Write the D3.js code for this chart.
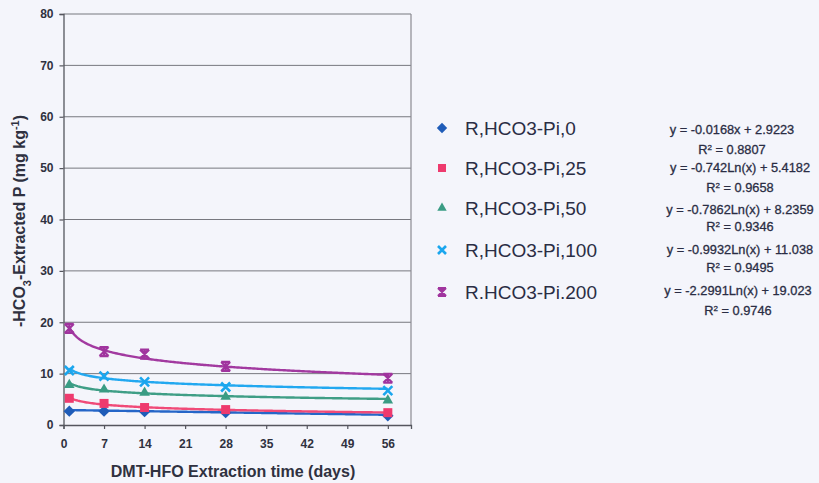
<!DOCTYPE html>
<html>
<head>
<meta charset="utf-8">
<script src="https://cdn.jsdelivr.net/npm/d3@7"></script>
<style>
  html, body { margin: 0; padding: 0; background: #f4f5fb; }
  svg { display: block; }
  text { font-family: "Liberation Sans", Arial, sans-serif; }
</style>
</head>
<body>
<svg id="chart" width="819" height="483"></svg>
<script>
// Extraction days and measured HCO3-extractable P for each P rate
const days = [1, 7, 14, 28, 56];
const seriesNames = ["R,HCO3-Pi,0", "R,HCO3-Pi,25", "R,HCO3-Pi,50", "R,HCO3-Pi,100", "R.HCO3-Pi.200"];
const pi0   = [2.7, 2.7, 2.6, 2.4, 1.8];
const pi25  = [5.2, 4.2, 3.4, 3.0, 2.4];
const pi50  = [7.8, 6.9, 6.3, 5.5, 4.8];
const pi100 = [10.6, 9.5, 8.4, 7.4, 6.7];
const pi200 = [18.8, 14.3, 13.8, 11.4, 9.1];
const seriesValues = [pi0, pi25, pi50, pi100, pi200];

// Trendline fits (linear for the first, logarithmic for the rest)
const fitType   = ["linear", "log", "log", "log", "log"];
const fitSlope  = [-0.0168, -0.742, -0.7862, -0.9932, -2.2991];
const fitConst  = [2.9223, 5.4182, 8.2359, 11.038, 19.023];
const fitR2     = ["0.8807", "0.9658", "0.9346", "0.9495", "0.9746"];
const fitText   = [
  "y = -0.0168x + 2.9223",
  "y = -0.742Ln(x) + 5.4182",
  "y = -0.7862Ln(x) + 8.2359",
  "y = -0.9932Ln(x) + 11.038",
  "y = -2.2991Ln(x) + 19.023"
];

const xTicks = [0, 7, 14, 21, 28, 35, 42, 49, 56];
const yTicks = [0, 10, 20, 30, 40, 50, 60, 70, 80];

const colors     = ["#1f5cb8", "#ee3a6e", "#3a9c84", "#1aa6ee", "#a0349e"];
const lineColors = ["#2566c8", "#f04a78", "#3f9e86", "#22a8f0", "#a23aa0"];
const shapes     = ["diamond", "square", "triangle", "cross", "star"];

const svg = d3.select("#chart");
const x = d3.scaleLinear().domain([0, 60]).range([63.5, 411]);
const y = d3.scaleLinear().domain([0, 80]).range([425, 14]);

// grid lines
svg.append("g").selectAll("line").data(yTicks.filter(d => d > 0)).join("line")
  .attr("x1", x(0)).attr("x2", x(60))
  .attr("y1", d => y(d)).attr("y2", d => y(d))
  .attr("stroke", "#77787f").attr("stroke-width", 1);

// right border
svg.append("line").attr("x1", x(60)).attr("x2", x(60)).attr("y1", y(80)).attr("y2", y(0))
  .attr("stroke", "#8a8a92").attr("stroke-width", 1.2);

// axes
const axisText = "#2f3140";
const yAxis = svg.append("g").attr("transform", `translate(${x(0)},0)`)
  .call(d3.axisLeft(y).tickValues(yTicks).tickSize(4).tickPadding(6));
const xAxis = svg.append("g").attr("transform", `translate(0,${y(0)})`)
  .call(d3.axisBottom(x).tickValues(xTicks).tickSize(4).tickPadding(10));
[yAxis, xAxis].forEach(g => {
  g.select(".domain").attr("stroke", "#55565e").attr("stroke-width", 1.3);
  g.selectAll(".tick line").attr("stroke", "#55565e").attr("stroke-width", 1.2);
  g.selectAll(".tick text").attr("fill", axisText)
    .style("font-size", "12px").style("font-weight", "bold")
    .style("font-family", "'Liberation Sans', Arial, sans-serif");
});

// trendlines
function fitValue(i, d) {
  return fitType[i] === "linear" ? fitSlope[i] * d + fitConst[i] : fitSlope[i] * Math.log(d) + fitConst[i];
}
const curveDays = d3.range(1, 56.01, 0.25);
const line = d3.line().x(d => x(d[0])).y(d => y(d[1])).curve(d3.curveLinear);
seriesValues.forEach((vals, i) => {
  svg.append("path")
    .datum(curveDays.map(d => [d, fitValue(i, d)]))
    .attr("d", line)
    .attr("fill", "none")
    .attr("stroke", lineColors[i])
    .attr("stroke-width", 2.4);
});

// markers
function drawMarker(g, shape, color, size) {
  const s = size, h = s / 2;
  if (shape === "diamond") {
    const r = h + 1.2;
    g.append("path").attr("d", `M0,${-r}L${r},0L0,${r}L${-r},0Z`).attr("fill", color);
  } else if (shape === "square") {
    g.append("rect").attr("x", -h).attr("y", -h).attr("width", s).attr("height", s).attr("fill", color);
  } else if (shape === "triangle") {
    g.append("path").attr("d", d3.symbol(d3.symbolTriangle, s * s * 0.6)()).attr("fill", color);
  } else if (shape === "cross") {
    g.append("path").attr("d", `M${-h},${-h}L${h},${h}M${-h},${h}L${h},${-h}`)
      .attr("stroke", color).attr("stroke-width", 2.6).attr("fill", "none");
  } else if (shape === "star") {
    g.append("path").attr("d", `M${-h},${-h}L${h},${h}M${-h},${h}L${h},${-h}M0,${-h}L0,${h}M${-h},${-h}L${h},${-h}M${-h},${h}L${h},${h}`)
      .attr("stroke", color).attr("stroke-width", 2.2).attr("fill", "none");
  }
}
seriesValues.forEach((vals, i) => {
  vals.forEach((v, j) => {
    const g = svg.append("g").attr("transform", `translate(${x(days[j])},${y(v)})`);
    drawMarker(g, shapes[i], colors[i], 9);
  });
});

// axis titles
const yTitle = svg.append("text")
  .attr("transform", `translate(25,221) rotate(-90)`)
  .attr("text-anchor", "middle")
  .attr("fill", axisText).style("font-size", "16px").style("font-weight", "bold");
yTitle.append("tspan").text("-HCO");
yTitle.append("tspan").text("3").attr("baseline-shift", "sub").style("font-size", "11px");
yTitle.append("tspan").text("-Extracted P (mg kg");
yTitle.append("tspan").text("-1").attr("baseline-shift", "super").style("font-size", "11px");
yTitle.append("tspan").text(")");

svg.append("text")
  .attr("x", 233).attr("y", 477)
  .attr("text-anchor", "middle")
  .attr("fill", axisText).style("font-size", "16px").style("font-weight", "bold")
  .text("DMT-HFO Extraction time (days)");

// legend
const legendY = [128, 168, 208, 250, 292];
seriesNames.forEach((name, i) => {
  const g = svg.append("g").attr("transform", `translate(442,${legendY[i]})`);
  drawMarker(g, shapes[i], colors[i], 8);
  svg.append("text").attr("x", 465).attr("y", legendY[i] + 7)
    .attr("fill", "#2a2d44").style("font-size", "19px").text(name);
});

// trendline equations
const eqX = [732, 740, 740, 740, 738];
const eqY = [130, 168, 210, 250, 291];
const r2Y = [150, 188, 227, 268, 311];
fitText.forEach((t, i) => {
  svg.append("text").attr("x", eqX[i]).attr("y", eqY[i] + 4)
    .attr("text-anchor", "middle").attr("fill", "#2a2d44")
    .attr("stroke", "#2a2d44").attr("stroke-width", 0.3)
    .style("font-size", "12.8px").text(t);
  const r = svg.append("text").attr("x", eqX[i]).attr("y", r2Y[i] + 4)
    .attr("text-anchor", "middle").attr("fill", "#2a2d44")
    .attr("stroke", "#2a2d44").attr("stroke-width", 0.3)
    .style("font-size", "12.8px");
  r.append("tspan").text("R");
  r.append("tspan").text("2").attr("baseline-shift", "super").style("font-size", "8px");
  r.append("tspan").text(" = " + fitR2[i]);
});
</script>
</body>
</html>
